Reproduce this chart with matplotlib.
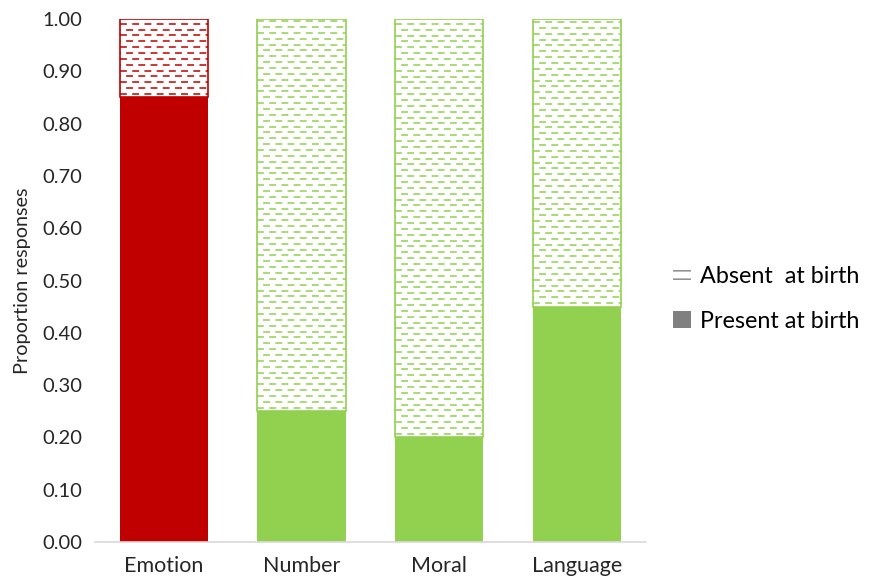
import numpy as np
import matplotlib
matplotlib.use('Agg')
import matplotlib.pyplot as plt
from matplotlib.patches import Patch

# Data
categories = ['Emotion', 'Number', 'Moral', 'Language']
present = [0.85, 0.25, 0.20, 0.45]
absent = [0.15, 0.75, 0.80, 0.55]
colors = ['#C00000', '#92D050', '#92D050', '#92D050']
yticks = [0.0, 0.1, 0.2, 0.3, 0.4, 0.5, 0.6, 0.7, 0.8, 0.9, 1.0]

plt.rcParams['font.family'] = ['Lato', 'DejaVu Sans']

fig = plt.figure(figsize=(8.74, 5.85), dpi=100)
ax = fig.add_axes([0.1087, 0.0735, 0.63, 0.894])

x = np.arange(len(categories))
width = 0.64

# Present at birth (solid)
ax.bar(x, present, width, color=colors, edgecolor='none', zorder=2)

# Absent at birth (outlined box with dashed fill)
top_bars = ax.bar(x, absent, width, bottom=present, facecolor='white',
                  edgecolor=colors, linewidth=1.2, zorder=2)

# dashed hatch lines, clipped to each bar
row_step = 0.0112
for i, rect in enumerate(top_bars):
    y0 = rect.get_y()
    y1 = y0 + rect.get_height()
    rows = np.arange(y0 + row_step * 0.6, y1 - row_step * 0.3, row_step)
    for j, yy in enumerate(rows):
        off = 0 if j % 2 == 0 else 4
        ln, = ax.plot([rect.get_x(), rect.get_x() + rect.get_width()], [yy, yy],
                      color=colors[i], linewidth=1.1, zorder=3,
                      linestyle=(off, (4.5, 3.5)), dash_capstyle='butt')
        ln.set_clip_path(rect)

ax.set_xlim(-0.5, len(categories) - 0.5)
ax.set_ylim(0, 1.0)
ax.set_xticks(x)
ax.set_xticklabels(categories, fontsize=15.5)
ax.set_yticks(yticks)
ax.set_yticklabels(['%.2f' % v for v in yticks], fontsize=14.5)
ax.tick_params(axis='both', length=0, colors='#404040', labelcolor='#262626')
ax.tick_params(axis='x', pad=10)
ax.tick_params(axis='y', pad=9)
ax.set_ylabel('Proportion responses', fontsize=14.3, color='#262626', labelpad=8)

for s in ['top', 'right', 'left']:
    ax.spines[s].set_visible(False)
ax.spines['bottom'].set_color('#D9D9D9')
ax.spines['bottom'].set_linewidth(1.2)

# Legend
plt.rcParams['hatch.color'] = '#808080'
plt.rcParams['hatch.linewidth'] = 1.0
handles = [Patch(facecolor='white', edgecolor='#808080', linewidth=0, hatch='--'),
           Patch(facecolor='#808080', edgecolor='none')]
labels = ['Absent  at birth', 'Present at birth']
fig.legend(handles, labels, loc='center left', bbox_to_anchor=(0.746, 0.489),
           frameon=False, fontsize=16.8, handlelength=0.75, handleheight=0.75,
           handletextpad=0.4, labelspacing=1.0)

fig.savefig('out.png', dpi=100)
